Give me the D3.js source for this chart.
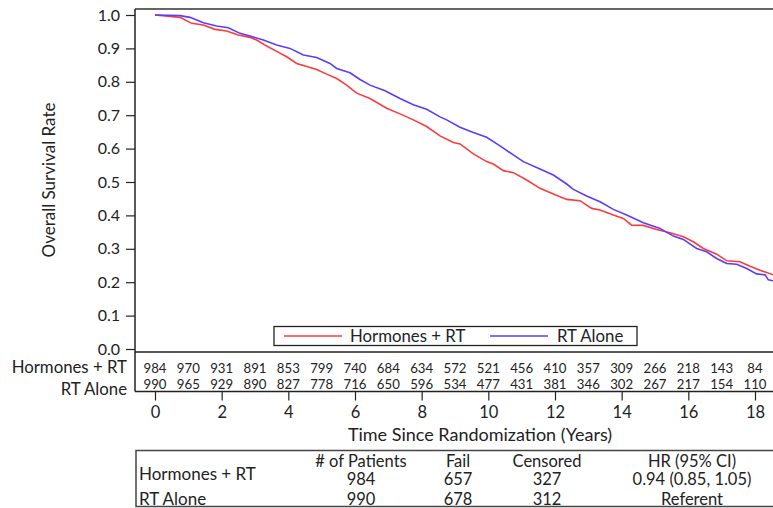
<!DOCTYPE html>
<html>
<head>
<meta charset="utf-8">
<script src="https://cdn.jsdelivr.net/npm/d3@7"></script>
<style>
  html, body { margin: 0; padding: 0; background: #fff; }
  svg { display: block; font-family: Lato, "Open Sans", sans-serif; }
</style>
</head>
<body>
<svg id="chart" width="773" height="508"></svg>
<script>
// ---------- data ----------
const hormTimes = [0, 0.75, 1.1, 1.45, 1.8, 2.15, 2.5, 2.85, 3.05, 3.35, 3.65, 3.95, 4.25, 4.65, 4.85, 5.15, 5.45, 5.75, 6.05, 6.45, 6.95, 7.35, 7.75, 8.15, 8.55, 8.95, 9.15, 9.55, 9.95, 10.15, 10.45, 10.75, 11.15, 11.55, 11.95, 12.35, 12.75, 13.1, 13.35, 13.75, 14.05, 14.3, 14.65, 15.05, 15.45, 15.85, 16.15, 16.45, 16.85, 17.15, 17.55, 17.85, 18.15, 18.55];
const hormSurv  = [1.0, 0.993, 0.975, 0.970, 0.957, 0.952, 0.940, 0.933, 0.925, 0.907, 0.891, 0.875, 0.855, 0.843, 0.837, 0.823, 0.810, 0.790, 0.766, 0.750, 0.721, 0.704, 0.686, 0.666, 0.638, 0.618, 0.614, 0.584, 0.561, 0.554, 0.534, 0.528, 0.506, 0.481, 0.464, 0.448, 0.444, 0.421, 0.416, 0.401, 0.391, 0.371, 0.370, 0.358, 0.348, 0.336, 0.321, 0.301, 0.284, 0.264, 0.261, 0.248, 0.236, 0.222];

const aloneTimes = [0, 0.75, 1.05, 1.45, 1.85, 2.2, 2.55, 2.85, 3.25, 3.65, 4.05, 4.45, 4.85, 5.25, 5.45, 5.85, 6.15, 6.45, 6.9, 7.35, 7.75, 8.15, 8.55, 8.75, 9.15, 9.55, 9.95, 10.35, 10.75, 11.05, 11.55, 11.95, 12.35, 12.55, 12.95, 13.35, 13.75, 14.15, 14.65, 15.15, 15.55, 15.85, 16.25, 16.55, 16.85, 17.15, 17.45, 17.75, 18.05, 18.3, 18.4, 18.55];
const aloneSurv  = [1.0, 0.998, 0.993, 0.977, 0.967, 0.962, 0.945, 0.937, 0.925, 0.910, 0.900, 0.880, 0.873, 0.855, 0.840, 0.827, 0.807, 0.790, 0.773, 0.750, 0.731, 0.718, 0.695, 0.686, 0.664, 0.648, 0.634, 0.608, 0.581, 0.561, 0.539, 0.521, 0.494, 0.478, 0.458, 0.441, 0.418, 0.401, 0.378, 0.361, 0.338, 0.328, 0.301, 0.291, 0.271, 0.256, 0.254, 0.241, 0.225, 0.222, 0.207, 0.204];

const seriesNames = ["Hormones + RT", "RT Alone"];
const seriesColors = ["#ff3a3a", "#5a3cff"];

const riskTimes = [0,1,2,3,4,5,6,7,8,9,10,11,12,13,14,15,16,17,18];
const riskHorm  = [984,970,931,891,853,799,740,684,634,572,521,456,410,357,309,266,218,143,84];
const riskAlone = [990,965,929,890,827,778,716,650,596,534,477,431,381,346,302,267,217,154,110];

const yTicks = [0,0.1,0.2,0.3,0.4,0.5,0.6,0.7,0.8,0.9,1.0];
const xTicks = [0,2,4,6,8,10,12,14,16,18];

const tableHeader = ["# of Patients", "Fail", "Censored", "HR (95% CI)"];
const tableRows = [
  ["Hormones + RT", "984", "657", "327", "0.94 (0.85, 1.05)"],
  ["RT Alone", "990", "678", "312", "Referent"]
];

// ---------- layout ----------
const plotL = 135, plotT = 9, plotB = 352, plotR = 773;
const riskB = 391.5;
const svg = d3.select("#chart");
const ink = "#222";

const x = d3.scaleLinear().domain([0, 18]).range([155, 755]);
const y = d3.scaleLinear().domain([0, 1]).range([349, 15]);

svg.append("defs").append("clipPath").attr("id", "clip")
  .append("rect").attr("x", plotL).attr("y", plotT).attr("width", plotR - plotL).attr("height", plotB - plotT);

// curves
const line = d3.line().x(d => x(d[0])).y(d => y(d[1]));
const curves = [d3.zip(hormTimes, hormSurv), d3.zip(aloneTimes, aloneSurv)];
svg.append("g").attr("clip-path", "url(#clip)")
  .selectAll("path").data(curves).join("path")
  .attr("d", line)
  .attr("fill", "none")
  .attr("stroke", (d, i) => seriesColors[i])
  .attr("stroke-width", 1.6);

// frame
svg.append("line").attr("x1", plotL).attr("x2", plotR).attr("y1", plotT).attr("y2", plotT)
  .attr("stroke", "#666").attr("stroke-width", 2);
svg.append("line").attr("x1", plotL).attr("x2", plotL).attr("y1", plotT).attr("y2", riskB)
  .attr("stroke", ink).attr("stroke-width", 1.5);
svg.append("line").attr("x1", plotL).attr("x2", plotR).attr("y1", plotB).attr("y2", plotB)
  .attr("stroke", ink).attr("stroke-width", 1.5);
svg.append("line").attr("x1", plotL).attr("x2", plotR).attr("y1", riskB).attr("y2", riskB)
  .attr("stroke", ink).attr("stroke-width", 1.5);

// y axis
const yAxis = d3.axisLeft(y).tickValues(yTicks).tickFormat(d3.format(".1f")).tickSize(9).tickPadding(6);
const gy = svg.append("g").attr("transform", `translate(${plotL},0)`).call(yAxis);
gy.select(".domain").remove();
gy.selectAll("line").attr("stroke", ink).attr("stroke-width", 1.2);
gy.selectAll("text").attr("font-size", 16).attr("fill", ink).attr("font-family", "Lato");

svg.append("text")
  .attr("transform", "translate(55,180) rotate(-90)")
  .attr("text-anchor", "middle")
  .attr("font-size", 17).attr("fill", ink)
  .text("Overall Survival Rate");

// x axis
const xAxis = d3.axisBottom(x).tickValues(xTicks).tickFormat(d3.format("d")).tickSize(9).tickPadding(6);
const gx = svg.append("g").attr("transform", `translate(0,${riskB})`).call(xAxis);
gx.select(".domain").remove();
gx.selectAll("line").attr("stroke", ink).attr("stroke-width", 1.2);
gx.selectAll("text").attr("font-size", 16.5).attr("fill", ink).attr("font-family", "Lato");

svg.append("text").attr("x", 480).attr("y", 441).attr("text-anchor", "middle")
  .attr("font-size", 18).attr("fill", ink)
  .text("Time Since Randomization (Years)");

// legend
const lg = svg.append("g");
lg.append("rect").attr("x", 274).attr("y", 326.5).attr("width", 363).attr("height", 19)
  .attr("fill", "#fff").attr("stroke", ink).attr("stroke-width", 1.3);
const legItems = [{x1: 284, x2: 342, tx: 350}, {x1: 490, x2: 548, tx: 557}];
legItems.forEach((it, i) => {
  lg.append("line").attr("x1", it.x1).attr("x2", it.x2).attr("y1", 336).attr("y2", 336)
    .attr("stroke", seriesColors[i]).attr("stroke-width", 1.4);
  lg.append("text").attr("x", it.tx).attr("y", 342).attr("font-size", 16.8).attr("fill", ink)
    .text(seriesNames[i]);
});

// number at risk table
const riskRows = [riskHorm, riskAlone];
const riskY = [373, 389];
const labelY = [373, 394.5];
riskRows.forEach((row, r) => {
  svg.append("text").attr("x", 127).attr("y", labelY[r]).attr("text-anchor", "end")
    .attr("font-size", 16.8).attr("fill", ink).text(seriesNames[r]);
  svg.append("g").selectAll("text").data(d3.zip(riskTimes, row)).join("text")
    .attr("x", d => x(d[0])).attr("y", riskY[r]).attr("text-anchor", "middle")
    .attr("font-size", 13.2).attr("fill", ink).text(d => d[1]);
});

// summary table
svg.append("rect").attr("x", 136).attr("y", 450.5).attr("width", 700).attr("height", 56)
  .attr("fill", "none").attr("stroke", "#444").attr("stroke-width", 1.5);
const colX = [361, 458, 547, 692];
svg.append("g").selectAll("text").data(tableHeader).join("text")
  .attr("x", (d, i) => colX[i]).attr("y", 466.5).attr("text-anchor", "middle")
  .attr("font-size", 16.5).attr("fill", ink).text(d => d);
const rowLabelY = [480, 505];
const rowValY = [485, 505];
tableRows.forEach((row, r) => {
  svg.append("text").attr("x", 139).attr("y", rowLabelY[r]).attr("font-size", 17).attr("fill", ink).text(row[0]);
  svg.append("g").selectAll("text").data(row.slice(1)).join("text")
    .attr("x", (d, i) => colX[i]).attr("y", rowValY[r]).attr("text-anchor", "middle")
    .attr("font-size", 16.5).attr("fill", ink).text(d => d);
});
</script>
</body>
</html>
